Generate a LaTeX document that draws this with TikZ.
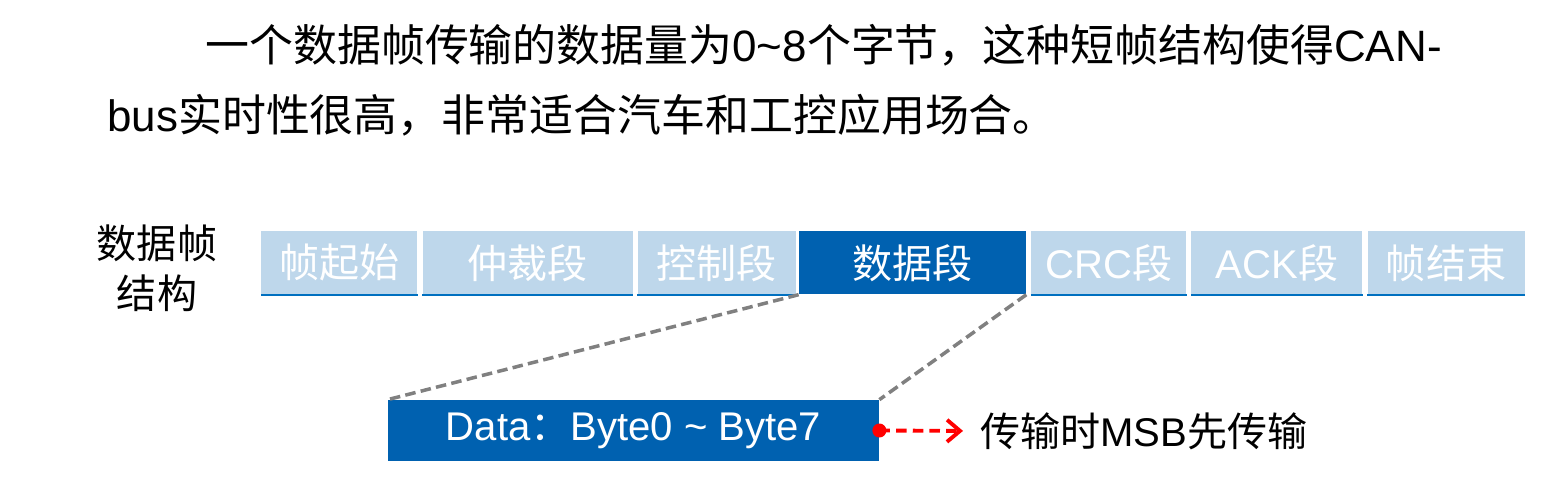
\documentclass[tikz,border=0pt]{standalone}
\usepackage{fontspec}
\setmainfont{Liberation Sans}
\newfontfamily\cjk{Noto Sans CJK SC}
\newcommand{\hz}[1]{{\cjk #1}}
\usetikzlibrary{arrows.meta,positioning}
\definecolor{azulclaro}{RGB}{190,215,235}
\definecolor{azul}{RGB}{0,97,176}
\definecolor{azullinea}{RGB}{0,112,192}
\tikzset{
  >={Straight Barb[length=2.6mm, width=4.4mm]},
  campo/.style={fill=azulclaro, text=white, minimum height=1.26cm, inner sep=0pt,
    font=\fontsize{22.8}{27}\selectfont},
  activo/.style={campo, fill=azul},
  raya/.style={azullinea, line width=1.2pt},
  guia/.style={gray, line width=2pt, dash pattern=on 6pt off 3pt},
  flecha/.style={->, red, line width=2.2pt, dash pattern=on 6pt off 3.5pt},
  texto/.style={font=\fontsize{22.8}{28.45}\selectfont},
}

\begin{document}
\begin{tikzpicture}
  \useasboundingbox (0,0) rectangle (31.1,-9.96);
  % texto superior
  \node[anchor=west, inner sep=0pt, font=\fontsize{25}{30}\selectfont] (linea1) at (4.1,-0.9)
    {\hz{一个数据帧传输的数据量为}0\textasciitilde8\hz{个字节，这种短帧结构使得}CAN-};
  \node[anchor=west, inner sep=0pt, font=\fontsize{25}{30}\selectfont] (linea2) at (2.14,-2.3)
    {bus\hz{实时性很高，非常适合汽车和工控应用场合。}};
  % estructura de la trama
  \node[texto, align=center] (titulo) at (3.14,-5.36) {\hz{数据帧}\\\hz{结构}};
  \node[campo, anchor=north west, minimum width=3.12cm] (f1) at (5.22,-4.62) {\hz{帧起始}};
  \node[campo, right=0.09cm of f1, minimum width=4.2cm] (f2) {\hz{仲裁段}};
  \node[campo, right=0.09cm of f2, minimum width=3.16cm] (f3) {\hz{控制段}};
  \node[activo, right=0.05cm of f3, minimum width=4.54cm] (f4) {\hz{数据段}};
  \node[campo, right=0.09cm of f4, minimum width=3.1cm] (f5) {CRC\hz{段}};
  \node[campo, right=0.09cm of f5, minimum width=3.42cm] (f6) {ACK\hz{段}};
  \node[campo, right=0.09cm of f6, minimum width=3.14cm] (f7) {\hz{帧结束}};
  \foreach \f in {f1,f2,f3,f5,f6,f7}
    \draw[raya] (\f.south west) -- (\f.south east);
  % campo de datos
  \node[activo, minimum width=9.82cm, minimum height=1.22cm] (datos) at (12.67,-8.61)
    {Data\hz{：}Byte0 \textasciitilde{} Byte7};
  \draw[guia] (f4.south west) -- (datos.north west);
  \draw[guia] (f4.south east) -- (datos.north east);
  \node[texto, anchor=west, inner sep=0pt] (nota) at (19.6,-8.62) {\hz{传输时}MSB\hz{先传输}};
  \draw[flecha, shorten >=0.34cm] (datos.east) -- (nota.west);
  \fill[red] (datos.east) circle (0.14);
\end{tikzpicture}
\end{document}
